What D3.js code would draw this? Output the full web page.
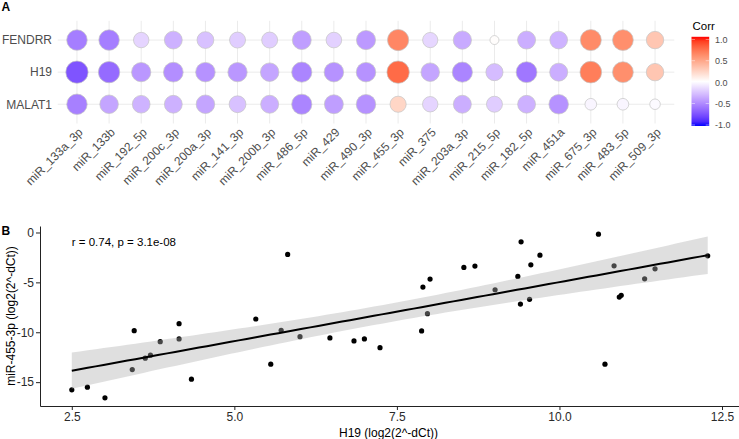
<!DOCTYPE html>
<html><head><meta charset="utf-8">
<script src="https://cdn.jsdelivr.net/npm/d3@7"></script>
<style>body{margin:0;background:#fff} svg{display:block;font-family:"Liberation Sans",Arial,sans-serif}</style>
</head><body><svg id="c" width="739" height="439"></svg>
<script>
// ---------- Panel A data ----------
const categories = ["miR_133a_3p","miR_133b","miR_192_5p","miR_200c_3p","miR_200a_3p","miR_141_3p","miR_200b_3p","miR_486_5p","miR_429","miR_490_3p","miR_455_3p","miR_375","miR_203a_3p","miR_215_5p","miR_182_5p","miR_451a","miR_675_3p","miR_483_5p","miR_509_3p"];
const rowNames = ["FENDRR","H19","MALAT1"];
const corrFENDRR = [-0.55,-0.55,-0.18,-0.33,-0.26,-0.21,-0.21,-0.41,-0.19,-0.43,0.62,-0.17,-0.36,0.01,-0.34,-0.32,0.60,0.58,0.30];
const corrH19    = [-0.73,-0.63,-0.44,-0.48,-0.46,-0.44,-0.38,-0.52,-0.46,-0.46,0.74,-0.38,-0.52,-0.28,-0.58,-0.34,0.66,0.58,0.30];
const corrMALAT1 = [-0.54,-0.38,-0.32,-0.33,-0.38,-0.26,-0.34,-0.52,-0.41,-0.46,0.22,-0.18,-0.34,-0.21,-0.33,-0.46,-0.04,-0.04,-0.02];
const legendTicks = [-1,-0.5,0,0.5,1];

// ---------- Panel B data ----------
const h19 = [2.50,2.74,3.01,3.46,3.43,3.63,3.71,3.86,4.15,4.15,4.34,5.33,5.82,5.56,5.72,6.01,6.47,6.84,7.00,7.24,7.88,7.90,7.97,8.01,8.53,8.70,9.01,9.36,9.40,9.41,9.54,9.56,9.70,10.60,10.70,10.84,10.92,10.95,11.31,11.47,12.28];
const mir455 = [-15.77,-15.50,-16.57,-9.84,-13.74,-12.60,-12.30,-10.94,-9.14,-10.67,-14.70,-8.67,-2.20,-13.20,-9.80,-10.44,-10.57,-10.87,-10.67,-11.54,-9.87,-5.47,-8.14,-4.67,-3.50,-3.37,-5.74,-4.40,-7.17,-0.94,-6.70,-3.24,-2.27,-0.17,-13.20,-3.34,-6.47,-6.30,-4.64,-3.64,-2.34];
const xTicksB = [2.5,5.0,7.5,10.0,12.5];
const yTicksB = [0,-5,-10,-15];
const corLabel = "r = 0.74, p = 3.1e-08";
const xTitleB = "H19 (log2(2^-dCt))";
const yTitleB = "miR-455-3p (log2(2^-dCt))";

const svg = d3.select("#c");

// ================= Panel A =================
const series = [corrFENDRR, corrH19, corrMALAT1];
const pA = {l:57.7, r:674.3, t:20.8, b:123.5};
const xA = d3.scalePoint().domain(categories).range([pA.l, pA.r]).padding(0.6);
const yA = d3.scalePoint().domain(rowNames).range([pA.t, pA.b]).padding(0.6);
const color = d3.scaleLinear().domain([-1,0,1]).range(["blue","white","red"]).interpolate(d3.interpolateLab);
const cells = rowNames.flatMap((r,i)=>categories.map((c,j)=>({r,c,v:series[i][j]})));
const absExt = d3.extent(cells, d=>Math.abs(d.v));
const tNorm = d3.scaleLinear().domain(absExt).range([0,1]);
const rMax = 11.2;
const rOf = v => rMax*(0.4+0.6*Math.sqrt(tNorm(Math.abs(v))));

const gA = svg.append("g");
gA.selectAll("line.gv").data(categories).join("line")
  .attr("x1",d=>xA(d)).attr("x2",d=>xA(d)).attr("y1",pA.t).attr("y2",pA.b)
  .attr("stroke","#ebebeb").attr("stroke-width",1);
gA.selectAll("line.gh").data(rowNames).join("line")
  .attr("y1",d=>yA(d)).attr("y2",d=>yA(d)).attr("x1",pA.l).attr("x2",pA.r)
  .attr("stroke","#ebebeb").attr("stroke-width",1);
gA.selectAll("circle").data(cells).join("circle")
  .attr("cx",d=>xA(d.c)).attr("cy",d=>yA(d.r)).attr("r",d=>rOf(d.v))
  .attr("fill",d=>color(d.v)).attr("stroke","#c4c4c4").attr("stroke-width",0.7);

const ayA = gA.append("g").attr("transform",`translate(${pA.l},0)`)
  .call(d3.axisLeft(yA).tickSize(0).tickPadding(5.7));
ayA.select(".domain").remove();
ayA.selectAll("text").attr("font-size",12).attr("fill","#4d4d4d").attr("font-family","Liberation Sans, Arial, sans-serif");

const axA = gA.append("g").attr("transform",`translate(0,${pA.b})`)
  .call(d3.axisBottom(xA).tickSize(0));
axA.select(".domain").remove();
axA.selectAll("text").attr("font-size",12).attr("fill","#4d4d4d").attr("font-family","Liberation Sans, Arial, sans-serif")
  .attr("x",0).attr("y",0).attr("dy","0.72em")
  .attr("text-anchor","end").attr("transform","translate(0,3.5) rotate(-45)");

svg.append("text").attr("x",1.5).attr("y",10.5).attr("font-size",12).attr("font-weight","bold").text("A");

// Legend
const legY = d3.scaleLinear().domain([-1,1]).range([125,39.3]);
const defs = svg.append("defs");
const grad = defs.append("linearGradient").attr("id","cg").attr("x1",0).attr("y1",1).attr("x2",0).attr("y2",0);
d3.range(0,21).forEach(i=>{const v=-1+i*0.1; grad.append("stop").attr("offset",(i/20)).attr("stop-color",color(v));});
svg.append("text").attr("x",692.5).attr("y",29.5).attr("font-size",11.5).attr("fill","#000").text("Corr");
svg.append("rect").attr("x",691.5).attr("y",legY(1)-2.5).attr("width",17.7).attr("height",legY(-1)-legY(1)+3.5).attr("fill","url(#cg)");
const lgAx = svg.append("g").attr("transform","translate(709.2,0)")
  .call(d3.axisRight(legY).tickValues(legendTicks).tickSize(0).tickPadding(5.8).tickFormat(d3.format(".1f")));
lgAx.select(".domain").remove();
lgAx.selectAll("text").attr("font-size",9).attr("fill","#4d4d4d").attr("font-family","Liberation Sans, Arial, sans-serif")
  .text(d=>d3.format(".1f")(d).replace("\u2212","-"));
svg.selectAll("line.lt").data(legendTicks).join("line").attr("class","lt")
  .attr("x1",691.5).attr("x2",695).attr("y1",d=>legY(d)).attr("y2",d=>legY(d)).attr("stroke","#fff").attr("stroke-width",0.6).attr("opacity",0.8);
svg.selectAll("line.lt2").data(legendTicks).join("line").attr("class","lt2")
  .attr("x1",705.7).attr("x2",709.2).attr("y1",d=>legY(d)).attr("y2",d=>legY(d)).attr("stroke","#fff").attr("stroke-width",0.6).attr("opacity",0.8);

// ================= Panel B =================
const pB = {l:40, r:739.5, t:226, b:406};
const xe = d3.extent(h19), ye = d3.extent(mir455);
const xp = 0.05*(xe[1]-xe[0]), yp = 0.05*(ye[1]-ye[0]);
const xB = d3.scaleLinear().domain([xe[0]-xp, xe[1]+xp]).range([pB.l, pB.r]);
const yB = d3.scaleLinear().domain([ye[0]-yp, ye[1]+yp]).range([pB.b, pB.t]);
const gB = svg.append("g");

// regression
const n = h19.length;
const mx = d3.mean(h19), my = d3.mean(mir455);
let sxx=0, sxy=0;
for (let i=0;i<n;i++){ sxx+=(h19[i]-mx)**2; sxy+=(h19[i]-mx)*(mir455[i]-my); }
const slope = sxy/sxx, icpt = my - slope*mx;
let sse=0; for (let i=0;i<n;i++){ sse += (mir455[i]-(icpt+slope*h19[i]))**2; }
const s = Math.sqrt(sse/(n-2));
const tcrit = 2.0227;
const grid = d3.range(0,81).map(i=>xe[0]+(xe[1]-xe[0])*i/80);
const band = grid.map(x=>{const f=icpt+slope*x; const se=s*Math.sqrt(1/n+(x-mx)**2/sxx); return {x, f, lo:f-tcrit*se, hi:f+tcrit*se};});

gB.selectAll("circle").data(h19.map((x,i)=>({x,y:mir455[i]}))).join("circle")
  .attr("cx",d=>xB(d.x)).attr("cy",d=>yB(d.y)).attr("r",2.6).attr("fill","#000");
gB.append("path").datum(band)
  .attr("d",d3.area().x(d=>xB(d.x)).y0(d=>yB(d.lo)).y1(d=>yB(d.hi)))
  .attr("fill","#b0b0b0").attr("opacity",0.4);
gB.append("path").datum(band)
  .attr("d",d3.line().x(d=>xB(d.x)).y(d=>yB(d.f)))
  .attr("fill","none").attr("stroke","#000").attr("stroke-width",2);

const axB = gB.append("g").attr("transform",`translate(0,${pB.b})`)
  .call(d3.axisBottom(xB).tickValues(xTicksB).tickSize(4).tickSizeOuter(0).tickPadding(2).tickFormat(d3.format(".1f")));
const ayB = gB.append("g").attr("transform",`translate(${pB.l},0)`)
  .call(d3.axisLeft(yB).tickValues(yTicksB).tickSize(4).tickSizeOuter(0).tickPadding(2).tickFormat(d=>String(d)));
[axB, ayB].forEach(a=>{
  a.select(".domain").attr("stroke","#222").attr("stroke-width",1);
  a.selectAll(".tick line").attr("stroke","#222");
  a.selectAll("text").attr("font-size",12).attr("fill","#2a2a2a").attr("font-family","Liberation Sans, Arial, sans-serif");
});

svg.append("text").attr("x",xB(xe[0])).attr("y",245.8).attr("font-size",11.5).attr("fill","#000").text(corLabel);
svg.append("text").attr("x",(pB.l+737)/2).attr("y",437).attr("text-anchor","middle").attr("font-size",12).attr("fill","#000").text(xTitleB);
svg.append("text").attr("transform",`translate(15,${(pB.t+pB.b)/2}) rotate(-90)`).attr("text-anchor","middle").attr("font-size",12).attr("fill","#000").text(yTitleB);
svg.append("text").attr("x",1.5).attr("y",235).attr("font-size",12).attr("font-weight","bold").text("B");
</script></body></html>
